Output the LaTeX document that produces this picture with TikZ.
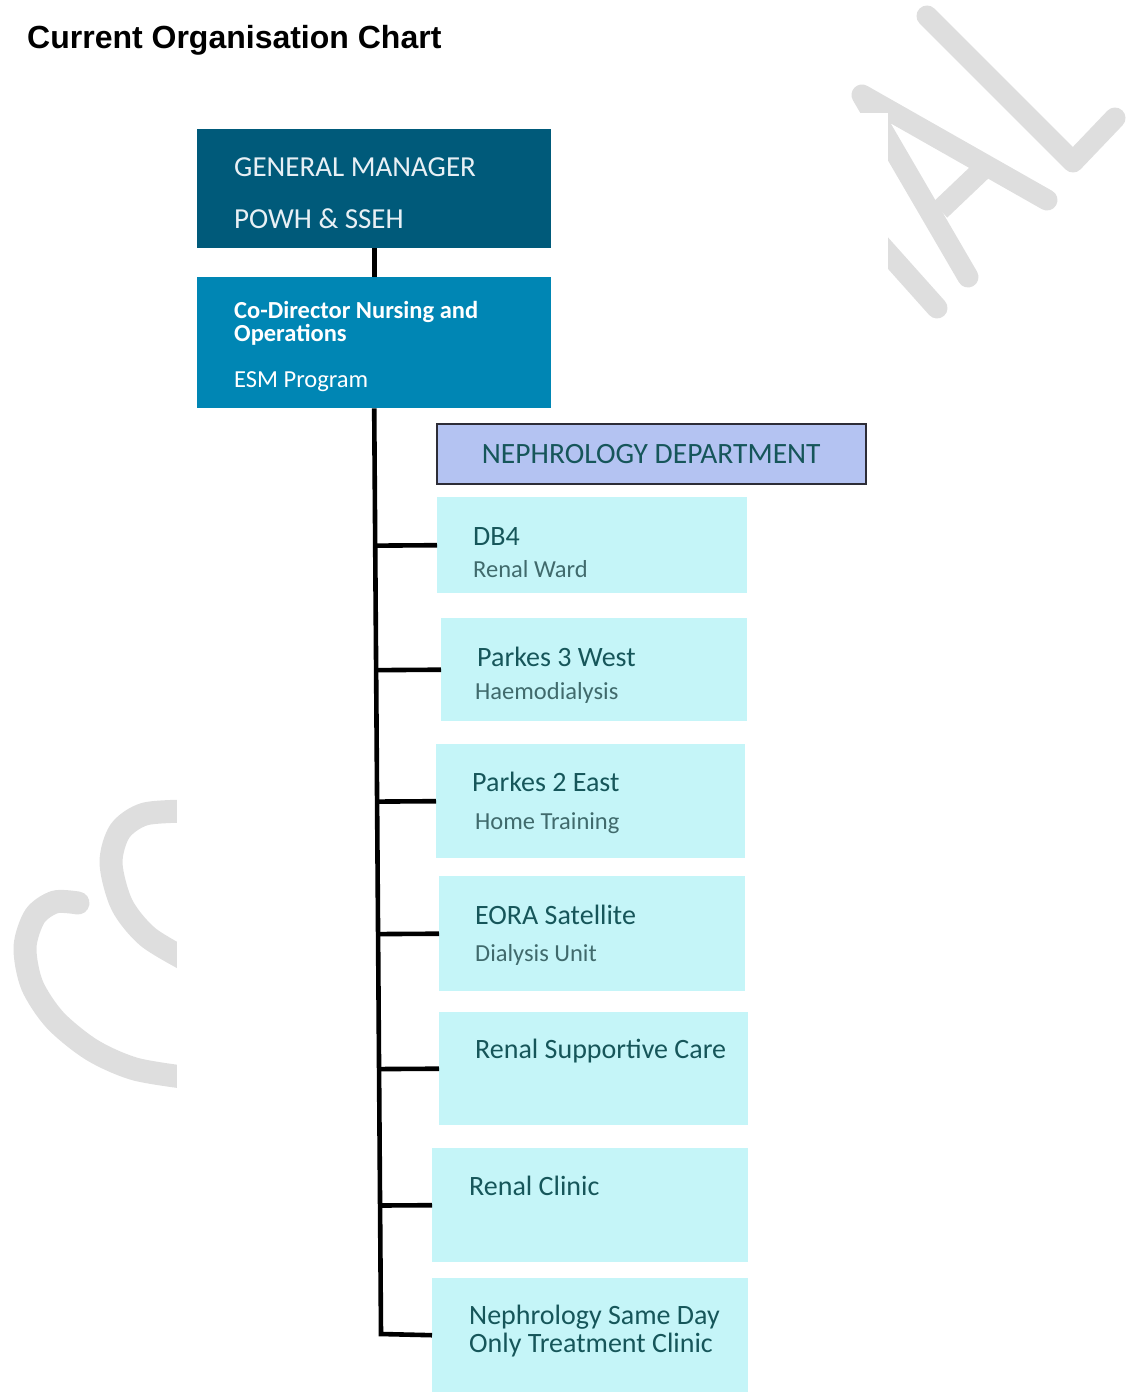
\documentclass[tikz,border=0pt]{standalone}
\usepackage{fontspec}
\setmainfont{Carlito}
\newfontfamily\headfont{Liberation Sans}
\usetikzlibrary{calc}

\definecolor{gmblue}{RGB}{0,90,122}
\definecolor{codirblue}{RGB}{0,134,180}
\definecolor{deptfill}{RGB}{180,195,242}
\definecolor{deptline}{RGB}{45,45,55}
\definecolor{unitfill}{RGB}{197,245,248}
\definecolor{unitteal}{RGB}{22,86,90}
\definecolor{subteal}{RGB}{64,106,108}
\definecolor{paletext}{RGB}{232,240,245}
\definecolor{wmgrey}{RGB}{222,222,222}

\begin{document}
\begin{tikzpicture}[x=1pt,y=-1pt,
  wm/.style={draw=wmgrey,line width=21pt,line cap=round,line join=round},
  conn/.style={draw=black,line width=4.6pt,line join=miter},
  box/.style={anchor=north west,inner sep=0pt},
  unit/.style={box,fill=unitfill},
  lbl/.style={anchor=base west,inner sep=0pt},
  toptext/.style={lbl,text=paletext,font=\fontsize{29}{29}\selectfont},
  codirtext/.style={lbl,text=white,font=\fontsize{24.5}{22}\selectfont},
  unittitle/.style={lbl,text=unitteal,font=\fontsize{28}{28}\selectfont},
  unitsub/.style={lbl,text=subteal,font=\fontsize{24.5}{24}\selectfont}]
  % Boundary
  \path[use as bounding box] (0,0) rectangle (1129,1394);
  % Watermark
  \draw[wm] (968,277) -- (862,95) -- (1047,200);
  \draw[wm,line cap=butt] (982,170) -- (940,210);
  \draw[wm] (870,233) -- (937,308);
  \draw[wm] (927,16) -- (1073,162) -- (1115,118);
  \draw[wm,line width=23pt] plot[smooth] coordinates {(78,903) (55,902) (35,916) (25,947) (32,985) (55,1020) (92,1050) (135,1069) (190,1078)};
  \draw[wm,line width=23pt] plot[smooth] coordinates {(190,811) (145,814) (120,831) (111,863) (122,905) (148,937) (190,962)};
  \fill[white] (177,113) rectangle (888,1394);
  % Title
  \node[lbl,font=\headfont\bfseries\fontsize{32}{32}\selectfont] (title) at (27,49) {Current Organisation Chart};
  % Management
  \node[box,fill=gmblue,minimum width=354pt,minimum height=119pt] (gm) at (197,129) {};
  \node[toptext] (gmt) at ($(gm.north west)+(37,47)$) {GENERAL MANAGER};
  \node[toptext] (gms) at ($(gm.north west)+(37,99)$) {POWH \& SSEH};
  \node[box,fill=codirblue,minimum width=354pt,minimum height=131pt] (codir) at (197,277) {};
  \node[codirtext,font=\bfseries\fontsize{24.5}{22}\selectfont] (codirt) at ($(codir.north west)+(37,41)$) {Co-Director Nursing and};
  \node[codirtext,font=\bfseries\fontsize{24.5}{22}\selectfont] (codiru) at ($(codir.north west)+(37,64)$) {Operations};
  \node[codirtext] (codirs) at ($(codir.north west)+(37,110)$) {ESM Program};
  % Department
  \node[box,fill=deptfill,draw=deptline,line width=1.5pt,minimum width=429pt,minimum height=60pt] (dept) at (436,423) {};
  \node[inner sep=0pt,text=unitteal,font=\fontsize{29.5}{29.5}\selectfont] (deptt) at (dept.center) {NEPHROLOGY DEPARTMENT};
  % Units
  \node[unit,minimum width=310pt,minimum height=96pt] (db4) at (437,497) {};
  \node[unittitle] (db4t) at ($(db4.north west)+(36,48)$) {DB4};
  \node[unitsub] (db4s) at ($(db4.north west)+(36,80)$) {Renal Ward};
  \node[unit,minimum width=306pt,minimum height=103pt] (pk3) at (441,618) {};
  \node[unittitle] (pk3t) at ($(pk3.north west)+(36,48)$) {Parkes 3 West};
  \node[unitsub] (pk3s) at ($(pk3.north west)+(34,81)$) {Haemodialysis};
  \node[unit,minimum width=309pt,minimum height=114pt] (pk2) at (436,744) {};
  \node[unittitle] (pk2t) at ($(pk2.north west)+(36,47)$) {Parkes 2 East};
  \node[unitsub] (pk2s) at ($(pk2.north west)+(39,85)$) {Home Training};
  \node[unit,minimum width=306pt,minimum height=115pt] (eora) at (439,876) {};
  \node[unittitle] (eorat) at ($(eora.north west)+(36,48)$) {EORA Satellite};
  \node[unitsub] (eoras) at ($(eora.north west)+(36,85)$) {Dialysis Unit};
  \node[unit,minimum width=309pt,minimum height=113pt] (rsc) at (439,1012) {};
  \node[unittitle] (rsct) at ($(rsc.north west)+(36,46)$) {Renal Supportive Care};
  \node[unit,minimum width=316pt,minimum height=114pt] (rclin) at (432,1148) {};
  \node[unittitle] (rclint) at ($(rclin.north west)+(37,47)$) {Renal Clinic};
  \node[unit,minimum width=316pt,minimum height=114pt] (nsd) at (432,1278) {};
  \node[unittitle] (nsdt) at ($(nsd.north west)+(37,46)$) {Nephrology Same Day};
  \node[unittitle] (nsdu) at ($(nsd.north west)+(37,74)$) {Only Treatment Clinic};
  % Connectors
  \coordinate (trunkend) at (381,1334);
  \draw[conn] (gm.south) -- (codir.north);
  \draw[conn] (codir.south) -- (trunkend) -- (nsd.west);
  \foreach \u in {db4,pk3,pk2,eora,rsc,rclin}
    \draw[conn] ($(codir.south)!(\u.west)!(trunkend)$) -- (\u.west);
\end{tikzpicture}
\end{document}
